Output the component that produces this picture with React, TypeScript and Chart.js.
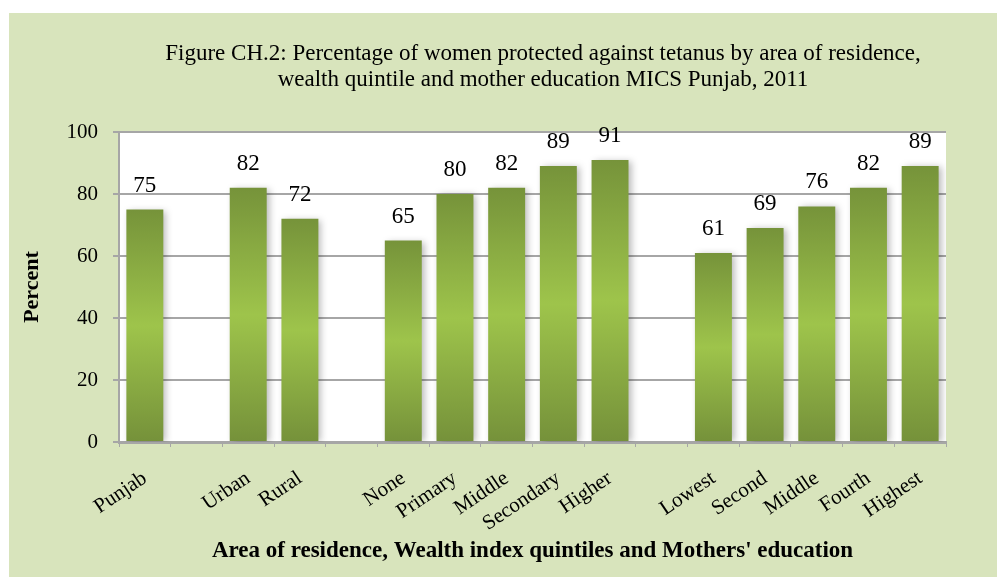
import React, { useEffect, useRef } from 'react';
import { Chart, registerables } from 'chart.js';

Chart.register(...registerables);

const categories: string[] = ['Punjab', '', 'Urban', 'Rural', '', 'None', 'Primary', 'Middle', 'Secondary', 'Higher', '', 'Lowest', 'Second', 'Middle', 'Fourth', 'Highest'];
const values: (number | null)[] = [75, null, 82, 72, null, 65, 80, 82, 89, 91, null, 61, 69, 76, 82, 89];
const yMin = 0;
const yMax = 100;
const yStep = 20;
const titleLines: string[] = [
  'Figure CH.2: Percentage of women protected against tetanus by area of residence,',
  'wealth quintile and mother education MICS Punjab, 2011',
];
const xTitle = "Area of residence, Wealth index quintiles and Mothers' education";
const yTitle = 'Percent';

const FONT = "'Liberation Serif', 'Times New Roman', serif";
const W = 988;
const H = 564;

const decorPlugin = {
  id: 'decor',
  beforeDatasetsDraw(chart: any) {
    const c = chart.ctx;
    c.save();
    c.shadowColor = 'rgba(0,0,0,0.28)';
    c.shadowBlur = 7;
    c.shadowOffsetX = 3;
    c.shadowOffsetY = 1;
  },
  afterDatasetsDraw(chart: any) {
    const c = chart.ctx;
    c.restore();
    const meta = chart.getDatasetMeta(0);
    c.save();
    c.font = `23px ${FONT}`;
    c.fillStyle = '#000';
    c.textAlign = 'center';
    c.textBaseline = 'middle';
    meta.data.forEach((el: any, i: number) => {
      const v = values[i];
      if (v == null) return;
      c.fillText(String(v), el.x, el.y - 24);
    });
    c.restore();
  },
  afterDraw(chart: any) {
    const c = chart.ctx;
    c.save();
    c.font = `23px ${FONT}`;
    c.fillStyle = '#000';
    c.textAlign = 'center';
    c.textBaseline = 'middle';
    c.fillText(titleLines[0], 534, 41);
    c.fillText(titleLines[1], 534, 67);
    c.restore();
  },
};

function barGradient(context: any) {
  const chart = context.chart;
  const v = values[context.dataIndex];
  if (!chart.chartArea || v == null) return '#8aad45';
  const y = chart.scales.y;
  const top = y.getPixelForValue(v);
  const bottom = y.getPixelForValue(0);
  if (!isFinite(top) || !isFinite(bottom) || bottom - top < 1) return '#8aad45';
  const g = chart.ctx.createLinearGradient(0, top, 0, bottom);
  g.addColorStop(0, '#76933a');
  g.addColorStop(0.5, '#9ec44b');
  g.addColorStop(1, '#75913a');
  return g;
}

export default function App() {
  const ref = useRef<HTMLCanvasElement | null>(null);
  useEffect(() => {
    if (!ref.current) return;
    const chart = new Chart(ref.current, {
      type: 'bar',
      data: {
        labels: categories,
        datasets: [
          {
            data: values as any,
            backgroundColor: barGradient as any,
            borderWidth: 0,
            categoryPercentage: 1,
            barPercentage: 0.715,
          },
        ],
      },
      options: {
        responsive: false,
        animation: false,
        devicePixelRatio: 1,
        layout: { padding: { top: 119, right: 51, left: 0, bottom: 0 } },
        plugins: {
          legend: { display: false },
          tooltip: { enabled: false },
          title: { display: false },
        },
        scales: {
          x: {
            afterFit(scale: any) {
              scale.height = 135;
            },
            grid: {
              display: true,
              drawOnChartArea: false,
              drawTicks: true,
              tickLength: 5,
              color: '#a6a6a6',
              lineWidth: 1,
              offset: true,
            },
            border: { color: '#a6a6a6', width: 3 },
            ticks: {
              autoSkip: false,
              minRotation: 34,
              maxRotation: 34,
              color: '#000',
              font: { family: FONT, size: 21 },
              padding: 19,
            },
            title: {
              display: true,
              text: xTitle,
              color: '#000',
              font: { family: FONT, size: 23, weight: 'bold' },
              padding: { top: 0, bottom: 12 },
            },
          },
          y: {
            min: yMin,
            max: yMax,
            afterFit(scale: any) {
              scale.width = 110;
            },
            grid: {
              color: '#a6a6a6',
              lineWidth: 2,
              tickLength: 6,
              drawTicks: true,
            },
            border: { color: '#a6a6a6', width: 2 },
            ticks: {
              stepSize: yStep,
              color: '#000',
              font: { family: FONT, size: 21 },
              padding: 15,
            },
            title: {
              display: true,
              text: yTitle,
              color: '#000',
              font: { family: FONT, size: 22, weight: 'bold' },
              padding: { top: 10, bottom: 0 },
            },
          },
        },
      },
      plugins: [decorPlugin],
    });
    return () => chart.destroy();
  }, []);

  return (
    <div
      style={{
        position: 'absolute',
        left: 9,
        top: 13,
        width: W,
        height: H,
        background: '#d8e4bc',
        overflow: 'hidden',
      }}
    >
      <div style={{ position: 'absolute', left: 110, top: 119, width: 827, height: 310, background: '#ffffff' }} />
      <canvas ref={ref} width={W} height={H} style={{ position: 'absolute', left: 0, top: 0, width: W, height: H }} />
    </div>
  );
}
